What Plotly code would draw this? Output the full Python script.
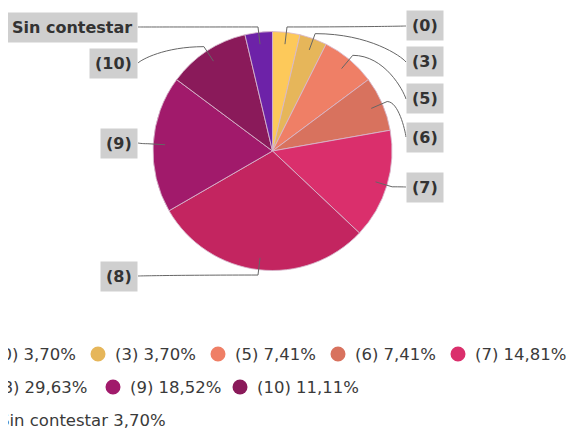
import math
import plotly.graph_objects as go

# ---- data ----
categories = ["(0)", "(3)", "(5)", "(6)", "(7)", "(8)", "(9)", "(10)", "Sin contestar"]
values = [3.70, 3.70, 7.41, 7.41, 14.81, 29.63, 18.52, 11.11, 3.70]
pct_labels = ["3,70%", "3,70%", "7,41%", "7,41%", "14,81%", "29,63%", "18,52%", "11,11%", "3,70%"]
colors = ["#fdc95a", "#e6b65a", "#ef7f66", "#d8725e", "#da2f6c",
          "#c32560", "#a11a6b", "#8a1a5a", "#6d22a8"]

# ---- layout constants (window pixels) ----
W, H = 574, 430
OFF = 8  # page body margin
CX, CY, R = 272.5, 151.0, 119.5
label_y = [26, 62, 99, 137, 187, 276, 143, 63, 27]
RIGHT_X, LEFT_X = 406, 138

legend_rows = [
    ([0, 1, 2, 3, 4], [-22, 98, 218, 338, 458], 354),
    ([5, 6, 7], [-21, 113, 240], 387),
    ([8], [-18], 420),
]


def px(x):
    return (x - OFF) / W


def py(y):
    return 1 - (y - OFF) / H


fig = go.Figure()
fig.add_trace(go.Pie(
    labels=categories, values=values, sort=False, direction="clockwise",
    rotation=0, textinfo="none", hoverinfo="label+percent",
    marker=dict(colors=colors, line=dict(color="rgba(215,185,205,0.85)", width=1)),
    domain=dict(x=[px(CX - R), px(CX + R)], y=[py(CY + R), py(CY - R)]),
    showlegend=False,
))

shapes = []
annotations = []
total = sum(values)
cum = 0.0
for i, (cat, v) in enumerate(zip(categories, values)):
    theta = 2 * math.pi * (cum + v / 2) / total
    cum += v
    s, c = math.sin(theta), math.cos(theta)
    ax_, ay_ = CX + 0.9 * R * s, CY - 0.9 * R * c
    ex, ey = CX + 1.045 * R * s, CY - 1.045 * R * c
    ty = label_y[i]
    tx = RIGHT_X if s > 0 else LEFT_X
    dx = tx - ex
    dy = ty - ey
    c1 = (ex + 0.6 * dx, ey)
    c2 = (tx - 0.05 * dx, ty - 0.2 * dy)
    path = (f"M {px(ax_)},{py(ay_)} L {px(ex)},{py(ey)} "
            f"C {px(c1[0])},{py(c1[1])} {px(c2[0])},{py(c2[1])} {px(tx)},{py(ty)}")
    shapes.append(dict(type="path", path=path, xref="paper", yref="paper",
                       line=dict(color="#666666", width=1)))
    annotations.append(dict(
        x=px(tx), y=py(ty), xref="paper", yref="paper", text=cat, showarrow=False,
        xanchor="left" if s > 0 else "right", yanchor="middle",
        font=dict(family="DejaVu Sans", size=16, color="#333333", weight="bold"),
        bgcolor="#cfcfcf", borderpad=5,
    ))

# ---- legend ----
MR = 7.5
for idxs, xs, y in legend_rows:
    for i, mx in zip(idxs, xs):
        shapes.append(dict(type="circle", xref="paper", yref="paper",
                           x0=px(mx - MR), x1=px(mx + MR), y0=py(y + MR), y1=py(y - MR),
                           fillcolor=colors[i], line=dict(width=0)))
        annotations.append(dict(
            x=px(mx + 15), y=py(y), xref="paper", yref="paper",
            text=f"{categories[i]} {pct_labels[i]}", showarrow=False,
            xanchor="left", yanchor="middle",
            font=dict(family="DejaVu Sans", size=16.5, color="#3a3a3a"),
        ))

fig.update_layout(
    width=W, height=H, margin=dict(l=0, r=0, t=0, b=0),
    paper_bgcolor="white", plot_bgcolor="white",
    shapes=shapes, annotations=annotations, showlegend=False,
)
fig.write_html("out.html")
